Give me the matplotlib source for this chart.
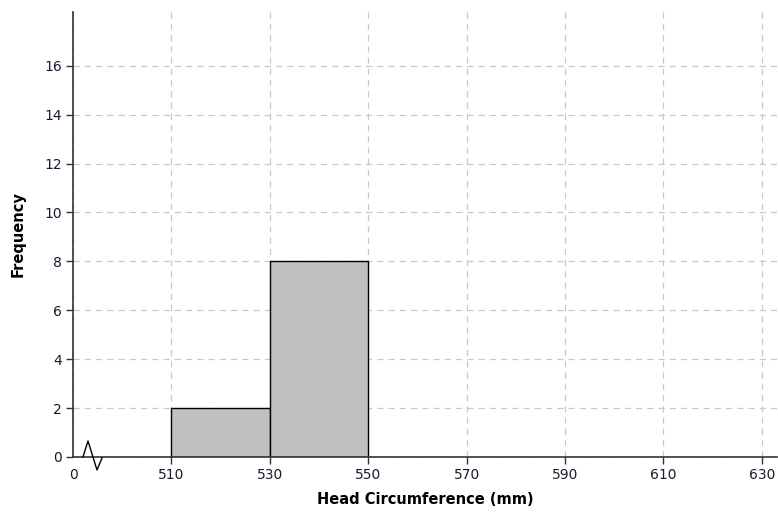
import matplotlib
matplotlib.use("Agg")
import matplotlib.pyplot as plt
from matplotlib.lines import Line2D

# Data
bin_edges = [510, 530, 550]
counts = [2, 8]
x_ticks = [490, 510, 530, 550, 570, 590, 610, 630]
x_tick_labels = ["0", "510", "530", "550", "570", "590", "610", "630"]
y_ticks = [0, 2, 4, 6, 8, 10, 12, 14, 16]
x_label = "Head Circumference (mm)"
y_label = "Frequency"

plt.rcParams['font.family'] = ['DejaVu Sans']
fig = plt.figure(figsize=(7.78, 5.14), dpi=100)
ax = fig.add_axes([73/778, 57/514, (777-73)/778, (457-12)/514])

lefts = bin_edges[:-1]
widths = [bin_edges[i+1] - bin_edges[i] for i in range(len(counts))]
ax.bar(lefts, counts, width=widths, align='edge', color='#c0c0c0',
       edgecolor='black', linewidth=1.0, zorder=3)

ax.set_xlim(490, 633.1)
ax.set_ylim(0, 18.2)
ax.set_xticks(x_ticks)
ax.set_xticklabels(x_tick_labels)
ax.set_yticks(y_ticks)

ax.grid(True, linestyle=(0, (5, 4)), color='#c8c8c8', linewidth=0.9, zorder=0)
for s in ['top', 'right']:
    ax.spines[s].set_visible(False)
for s in ['left', 'bottom']:
    ax.spines[s].set_color('#333333')
    ax.spines[s].set_linewidth(1.2)
    ax.spines[s].set_zorder(4)

ax.tick_params(axis='both', direction='out', length=5, width=1, color='#333333',
               labelsize=10, labelcolor='#1a1a30', pad=3)
ax.xaxis.get_major_ticks()[0].tick1line.set_visible(False)

ax.set_xlabel(x_label, fontsize=10.5, fontweight='bold', labelpad=7)
ax.set_ylabel(y_label, fontsize=10.5, fontweight='bold', labelpad=13)

# axis break symbol
W = 777 - 73
H = 457 - 12
px = [83, 88, 97, 102]
py = [457, 441, 470, 458]
xs = [(p - 73) / W for p in px]
ys = [(457 - p) / H for p in py]
ax.add_line(Line2D(xs, ys, transform=ax.transAxes, color='black',
                   linewidth=1.0, clip_on=False, zorder=5))

fig.savefig("out.png", dpi=100)
